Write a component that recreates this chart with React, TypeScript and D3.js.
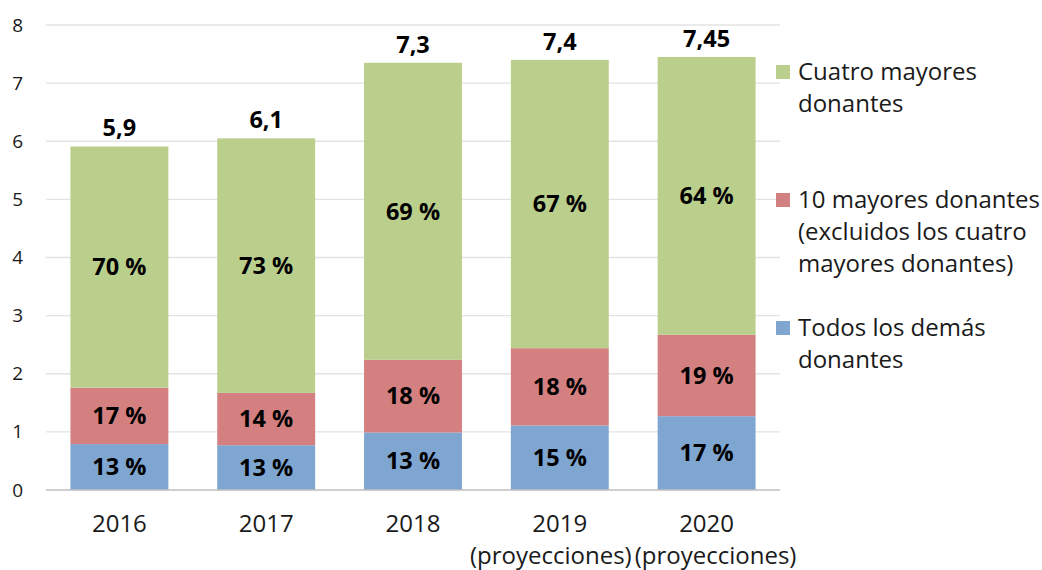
import { useEffect, useRef } from 'react';
import * as d3 from 'd3';

const years = ['2016', '2017', '2018', '2019', '2020'];
const yearNotes = ['', '', '', '(proyecciones)', '(proyecciones)'];
const totalLabels = ['5,9', '6,1', '7,3', '7,4', '7,45'];

// stacked values (billions), bottom to top
const otherDonors = [0.79, 0.77, 0.99, 1.11, 1.27];
const topTenDonors = [0.97, 0.9, 1.25, 1.33, 1.4];
const topFourDonors = [4.15, 4.38, 5.11, 4.96, 4.78];

const otherShare = ['13 %', '13 %', '13 %', '15 %', '17 %'];
const topTenShare = ['17 %', '14 %', '18 %', '18 %', '19 %'];
const topFourShare = ['70 %', '73 %', '69 %', '67 %', '64 %'];

const yTicks = [0, 1, 2, 3, 4, 5, 6, 7, 8];

const seriesKeys = ['other', 'topTen', 'topFour'];
const seriesColors = ['#7fa6d0', '#d48080', '#bbcf8d'];
const seriesShares = [otherShare, topTenShare, topFourShare];

const legendItems = [
  { color: '#bbcf8d', lines: ['Cuatro mayores', 'donantes'] },
  { color: '#d48080', lines: ['10 mayores donantes', '(excluidos los cuatro', 'mayores donantes)'] },
  { color: '#7fa6d0', lines: ['Todos los demás', 'donantes'] },
];

export default function App() {
  const ref = useRef<HTMLDivElement>(null);
  useEffect(() => {
    const width = 1042;
    const height = 570;
    const marginLeft = 46;
    const plotRight = 780;
    const yTop = 25;
    const yBottom = 490;
    const font = '"Open Sans", "Noto Sans", sans-serif';

    const rows = years.map((year, i) => ({
      year,
      other: otherDonors[i],
      topTen: topTenDonors[i],
      topFour: topFourDonors[i],
    }));

    const stacked = d3.stack<any>().keys(seriesKeys)(rows);

    const x = d3.scaleBand<string>()
      .domain(years)
      .range([marginLeft, plotRight])
      .paddingInner(0.333)
      .paddingOuter(0.1665);

    const y = d3.scaleLinear()
      .domain([0, 8])
      .range([yBottom, yTop]);

    const svg = d3.create('svg')
      .attr('width', width)
      .attr('height', height)
      .attr('viewBox', [0, 0, width, height])
      .attr('style', 'position:absolute;left:0;top:0;background:#fff')
      .style('font-family', font);

    // gridlines
    svg.append('g')
      .selectAll('line')
      .data(yTicks.filter((t) => t > 0))
      .join('line')
      .attr('x1', marginLeft)
      .attr('x2', plotRight)
      .attr('y1', (d) => y(d))
      .attr('y2', (d) => y(d))
      .attr('stroke', '#e3e3e3')
      .attr('stroke-width', 1.3);

    // y axis labels
    svg.append('g')
      .attr('transform', `translate(${marginLeft},0)`)
      .call(d3.axisLeft(y).tickValues(yTicks).tickSize(0).tickPadding(23))
      .call((g) => g.select('.domain').remove())
      .call((g) => g.selectAll('text')
        .attr('font-size', 19)
        .attr('font-family', font)
        .attr('fill', '#1a1a1a'));

    // bars
    svg.append('g')
      .selectAll('g')
      .data(stacked)
      .join('g')
      .attr('fill', (_, i) => seriesColors[i])
      .selectAll('rect')
      .data((d) => d)
      .join('rect')
      .attr('x', (d) => x(d.data.year)!)
      .attr('width', x.bandwidth())
      .attr('y', (d) => y(d[1]))
      .attr('height', (d) => y(d[0]) - y(d[1]));

    // share labels
    stacked.forEach((layer, si) => {
      svg.append('g')
        .selectAll('text')
        .data(layer)
        .join('text')
        .attr('x', (d) => x(d.data.year)! + x.bandwidth() / 2)
        .attr('y', (d) => (y(d[0]) + y(d[1])) / 2)
        .attr('dy', '0.35em')
        .attr('text-anchor', 'middle')
        .attr('font-size', 23.5)
        .attr('font-weight', 'bold')
        .attr('fill', '#000')
        .text((_, i) => seriesShares[si][i]);
    });

    // totals
    const top = stacked[stacked.length - 1];
    svg.append('g')
      .selectAll('text')
      .data(top)
      .join('text')
      .attr('x', (d) => x(d.data.year)! + x.bandwidth() / 2)
      .attr('y', (d) => y(d[1]) - 10)
      .attr('text-anchor', 'middle')
      .attr('font-size', 23.5)
      .attr('font-weight', 'bold')
      .attr('fill', '#000')
      .text((_, i) => totalLabels[i]);

    // baseline
    svg.append('line')
      .attr('x1', marginLeft)
      .attr('x2', plotRight)
      .attr('y1', y(0))
      .attr('y2', y(0))
      .attr('stroke', '#bfbfbf')
      .attr('stroke-width', 1.5);

    // x axis labels
    svg.append('g')
      .selectAll('text')
      .data(years)
      .join('text')
      .attr('x', (d) => x(d)! + x.bandwidth() / 2)
      .attr('y', 532)
      .attr('text-anchor', 'middle')
      .attr('font-size', 24)
      .attr('fill', '#1a1a1a')
      .text((d) => d);

    const notes = svg.append('g')
      .selectAll('text')
      .data(years)
      .join('text')
      .attr('x', (d) => x(d)! + x.bandwidth() / 2)
      .attr('y', 564)
      .attr('text-anchor', 'middle')
      .attr('font-size', 24)
      .attr('fill', '#1a1a1a')
      .text((_, i) => yearNotes[i]);

    const node = svg.node()!;
    ref.current?.append(node);

    // push neighbouring notes apart so they don't overlap
    const noteNodes = notes.nodes() as SVGTextElement[];
    const half = noteNodes.map((n) => n.getComputedTextLength() / 2);
    for (let i = 1; i < noteNodes.length; i++) {
      if (!yearNotes[i] || !yearNotes[i - 1]) continue;
      const cx0 = x(years[i - 1])! + x.bandwidth() / 2;
      const cx1 = x(years[i])! + x.bandwidth() / 2;
      const overlap = half[i - 1] + half[i] + 3 - (cx1 - cx0);
      if (overlap > 0) {
        d3.select(noteNodes[i - 1]).attr('x', cx0 - overlap / 2);
        d3.select(noteNodes[i]).attr('x', cx1 + overlap / 2);
      }
    }

    // legend
    const legendTops = [72, 200, 328];
    const legend = svg.append('g')
      .selectAll('g')
      .data(legendItems)
      .join('g')
      .attr('transform', (_, i) => `translate(776,${legendTops[i]})`);
    legend.append('rect')
      .attr('x', 0)
      .attr('y', -7)
      .attr('width', 14)
      .attr('height', 14)
      .attr('fill', (d) => d.color);
    legend.append('text')
      .attr('font-size', 24)
      .attr('fill', '#1a1a1a')
      .selectAll('tspan')
      .data((d) => d.lines)
      .join('tspan')
      .attr('x', 22)
      .attr('y', (_, i) => i * 32)
      .attr('dy', '0.35em')
      .text((d) => d);

    return () => {
      node.remove();
    };
  }, []);
  return <div ref={ref}></div>;
}
